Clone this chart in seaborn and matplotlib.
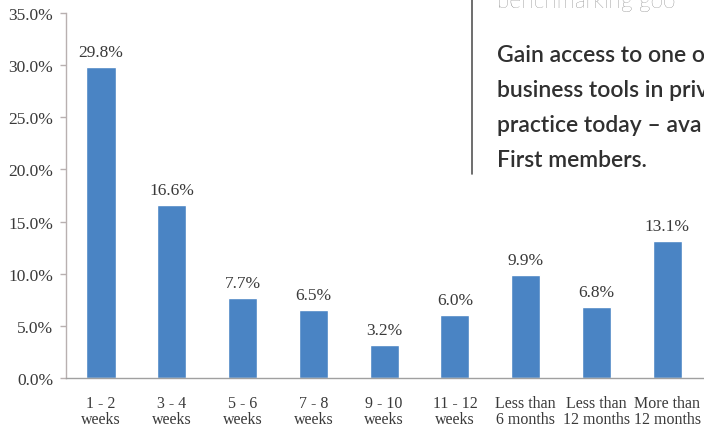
import matplotlib
matplotlib.use("Agg")
import matplotlib.pyplot as plt
import seaborn as sns
import pandas as pd
from matplotlib.ticker import FuncFormatter

categories = ["1 - 2\nweeks", "3 - 4\nweeks", "5 - 6\nweeks", "7 - 8\nweeks",
              "9 - 10\nweeks", "11 - 12\nweeks", "Less than\n6 months",
              "Less than\n12 months", "More than\n12 months"]
values = [29.8, 16.6, 7.7, 6.5, 3.2, 6.0, 9.9, 6.8, 13.1]
y_ticks = [0, 5, 10, 15, 20, 25, 30, 35]

overlay_lines = ["benchmarking goo", "Gain access to one o", "business tools in priv",
                 "practice today \u2013 ava", "First members."]

sns.set_theme(style="white")
plt.rcParams["font.family"] = ["Liberation Serif", "DejaVu Serif"]

df = pd.DataFrame({"cat": categories, "val": values})

fig = plt.figure(figsize=(7.04, 4.27), dpi=100)
ax = fig.add_axes([0.0932, 0.1124, 0.905, 0.855])

bar_color = "#4a84c4"
sns.barplot(data=df, x="cat", y="val", color=bar_color, width=0.41,
            saturation=1, ax=ax)

text_color = "#3a3a3a"
for c in ax.containers:
    ax.bar_label(c, labels=[f"{v:.1f}%" for v in values], padding=5,
                 fontsize=12.5, color=text_color)

ax.set_xlim(-0.5, 8.5)
ax.set_ylim(0, 35)
ax.set_yticks(y_ticks)
ax.yaxis.set_major_formatter(FuncFormatter(lambda v, p: f"{v:.1f}%"))
ax.set_xlabel("")
ax.set_ylabel("")

for s in ["top", "right"]:
    ax.spines[s].set_visible(False)
ax.spines["left"].set_color("#b8b0b0")
ax.spines["bottom"].set_color("#a0a0a0")
ax.spines["left"].set_linewidth(1.0)
ax.spines["bottom"].set_linewidth(1.0)

ax.tick_params(axis="y", left=True, length=4, width=1, color="#b8b0b0",
               labelsize=12.5, labelcolor=text_color, pad=5)
ax.tick_params(axis="x", bottom=False, labelsize=11.5, labelcolor=text_color, pad=6)
for lbl in ax.get_xticklabels():
    lbl.set_linespacing(1.0)

# Overlaid page text (from the screenshot)
fig.add_artist(plt.Line2D([472 / 704, 472 / 704], [1.0, 1 - 175 / 427],
                          transform=fig.transFigure, color="#555555", lw=1.2))
fig.text(497 / 704, 1 - 8 / 427, overlay_lines[0], fontsize=16.5,
         family=["Lato", "DejaVu Sans"], color="#555555", va="baseline",
         fontweight="light")
for i, line in enumerate(overlay_lines[1:]):
    fig.text(497 / 704, 1 - (62 + 35 * i) / 427, line, fontsize=16.5,
             family=["Lato", "DejaVu Sans"], color="#303030", va="baseline",
             fontweight="semibold")

fig.savefig("out.png", dpi=100)
